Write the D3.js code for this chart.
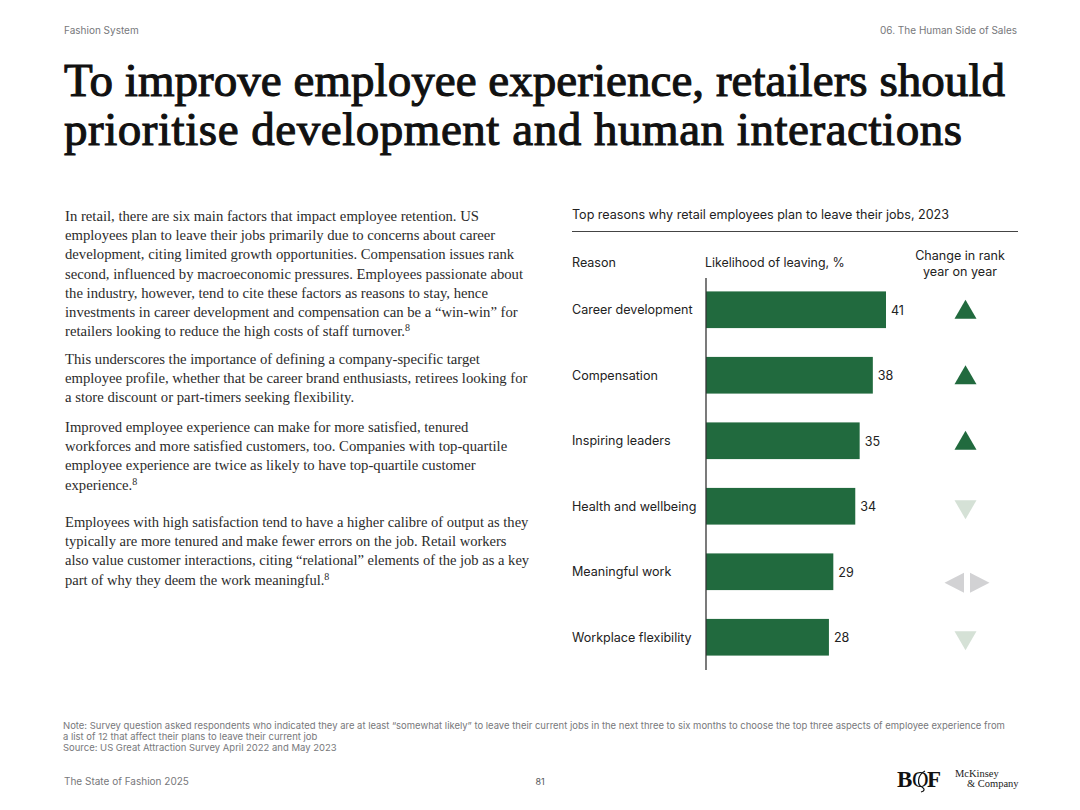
<!DOCTYPE html>
<html>
<head>
<meta charset="utf-8">
<script src="https://cdn.jsdelivr.net/npm/d3@7"></script>
<style>
  html, body { margin: 0; padding: 0; background: #fff; }
  text { font-family: "Inter", sans-serif; }
  .serif { font-family: "Liberation Serif", serif; }
</style>
</head>
<body>
<script>
// chart data
var reasons = ["Career development", "Compensation", "Inspiring leaders", "Health and wellbeing", "Meaningful work", "Workplace flexibility"];
var likelihood = [41, 38, 35, 34, 29, 28];
var rankChange = ["up", "up", "up", "down", "flat", "down"];

var titleLines = ["To improve employee experience, retailers should", "prioritise development and human interactions"];
var titleWidths = [941, 898];

var para1 = [
  "In retail, there are six main factors that impact employee retention. US",
  "employees plan to leave their jobs primarily due to concerns about career",
  "development, citing limited growth opportunities. Compensation issues rank",
  "second, influenced by macroeconomic pressures. Employees passionate about",
  "the industry, however, tend to cite these factors as reasons to stay, hence",
  "investments in career development and compensation can be a “win-win” for",
  "retailers looking to reduce the high costs of staff turnover.^8"
];
var para2 = [
  "This underscores the importance of defining a company-specific target",
  "employee profile, whether that be career brand enthusiasts, retirees looking for",
  "a store discount or part-timers seeking flexibility."
];
var para3 = [
  "Improved employee experience can make for more satisfied, tenured",
  "workforces and more satisfied customers, too. Companies with top-quartile",
  "employee experience are twice as likely to have top-quartile customer",
  "experience.^8"
];
var para4 = [
  "Employees with high satisfaction tend to have a higher calibre of output as they",
  "typically are more tenured and make fewer errors on the job. Retail workers",
  "also value customer interactions, citing “relational” elements of the job as a key",
  "part of why they deem the work meaningful.^8"
];
var noteLines = [
  "Note: Survey question asked respondents who indicated they are at least “somewhat likely” to leave their current jobs in the next three to six months to choose the top three aspects of employee experience from",
  "a list of 12 that affect their plans to leave their current job",
  "Source: US Great Attraction Survey April 2022 and May 2023"
];

var svg = d3.select("body").append("svg")
    .attr("width", 1080)
    .attr("height", 810)
    .style("display", "block");

function label(x, y, str, size, fill, anchor) {
  return svg.append("text")
      .attr("x", x)
      .attr("y", y)
      .attr("font-size", size)
      .attr("fill", fill)
      .attr("text-anchor", anchor || "start")
      .text(str);
}

// header and footer
label(64, 34, "Fashion System", 10, "#77787b");
label(1017, 34, "06. The Human Side of Sales", 10, "#77787b", "end");
label(64, 785, "The State of Fashion 2025", 10, "#77787b");
label(540, 785, "81", 9, "#55565a", "middle");

titleLines.forEach(function (t, i) {
  label(64, 96 + i * 49, t, 47, "#111", "start")
      .attr("class", "serif")
      .attr("stroke", "#111")
      .attr("stroke-width", 1.1)
      .attr("textLength", titleWidths[i])
      .attr("lengthAdjust", "spacing");
});

// body copy, ^8 marks the footnote reference
function paragraph(lines, y0, size) {
  lines.forEach(function (t, i) {
    var parts = t.split("^");
    var el = svg.append("text")
        .attr("class", "serif")
        .attr("x", 65)
        .attr("y", y0 + i * 19.2)
        .attr("font-size", size)
        .attr("fill", "#2b2b2b");
    el.append("tspan").text(parts[0]);
    if (parts[1]) {
      el.append("tspan").attr("dy", -5).attr("font-size", 10).text(parts[1]);
    }
  });
}
paragraph(para1, 221, 14.7);
paragraph(para2, 364, 14.7);
paragraph(para3, 432, 14.7);
paragraph(para4, 527, 14.55);

// notes
noteLines.forEach(function (t, i) {
  label(63, 729 + i * 11.2, t, 9.48, "#77787b");
});

// chart heading
label(572, 219, "Top reasons why retail employees plan to leave their jobs, 2023", 12.55, "#222");
svg.append("line")
    .attr("x1", 572).attr("x2", 1018)
    .attr("y1", 231.5).attr("y2", 231.5)
    .attr("stroke", "#444").attr("stroke-width", 1);

label(572, 267, "Reason", 12.55, "#222");
label(705, 267, "Likelihood of leaving, %", 12.4, "#222");
label(960, 260, "Change in rank", 12.55, "#222", "middle");
label(960, 276, "year on year", 12.55, "#222", "middle");

// scales
var x = d3.scaleLinear().domain([0, 41]).range([706, 886]);
var y = d3.scaleBand().domain(reasons).range([277, 670]).paddingInner(0.44).paddingOuter(0.22);

svg.selectAll("rect.bar")
    .data(reasons)
    .enter()
    .append("rect")
    .attr("class", "bar")
    .attr("x", x(0))
    .attr("y", function (d) { return y(d); })
    .attr("width", function (d, i) { return x(likelihood[i]) - x(0); })
    .attr("height", y.bandwidth())
    .attr("fill", "#216a3e");

svg.append("line")
    .attr("x1", x(0)).attr("x2", x(0))
    .attr("y1", 278).attr("y2", 670)
    .attr("stroke", "#333").attr("stroke-width", 1.3);

svg.selectAll("text.reason")
    .data(reasons)
    .enter()
    .append("text")
    .attr("class", "reason")
    .attr("x", 572)
    .attr("y", function (d) { return y(d) + y.bandwidth() / 2 + 4.5; })
    .attr("font-size", 12.55)
    .attr("fill", "#222")
    .text(function (d) { return d; });

svg.selectAll("text.value")
    .data(reasons)
    .enter()
    .append("text")
    .attr("class", "value")
    .attr("x", function (d, i) { return x(likelihood[i]) + 5; })
    .attr("y", function (d) { return y(d) + y.bandwidth() / 2 + 5; })
    .attr("font-size", 12.55)
    .attr("fill", "#222")
    .text(function (d, i) { return likelihood[i]; });

// rank change arrows
var arrowX = 965.5;
var arrowShapes = {
  up: { fill: "#216a3e", paths: ["M-11,9L0,-10L11,9Z"] },
  down: { fill: "#d5e1d6", paths: ["M-11,-6L11,-6L0,13Z"] },
  flat: { fill: "#d2d2d4", paths: ["M-1.5,1L-1.5,21L-21,11Z", "M4.5,1L4.5,21L24,11Z"] }
};
rankChange.forEach(function (c, i) {
  var g = svg.append("g")
      .attr("transform", "translate(" + arrowX + "," + (y(reasons[i]) + y.bandwidth() / 2) + ")");
  arrowShapes[c].paths.forEach(function (p) {
    g.append("path").attr("d", p).attr("fill", arrowShapes[c].fill);
  });
});

// logos
label(897, 787, "B", 23, "#111").attr("class", "serif").attr("font-weight", 700);
label(912, 787, "O", 23, "#111").attr("class", "serif");
label(927, 787, "F", 23, "#111").attr("class", "serif").attr("font-weight", 700);
svg.append("path")
    .attr("d", "M925,771C917,775 917,785 922,787C925,789 925,791 921,792")
    .attr("fill", "none").attr("stroke", "#111").attr("stroke-width", 1.2);
label(955, 777, "McKinsey", 10.5, "#222").attr("class", "serif");
label(967, 787, "& Company", 10.5, "#222").attr("class", "serif");
</script>
</body>
</html>
